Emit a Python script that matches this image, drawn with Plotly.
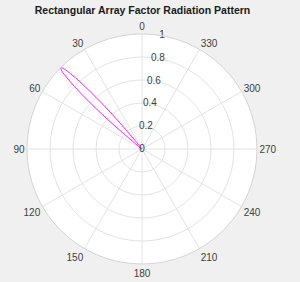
import plotly.graph_objects as go

# Main lobe of the array-factor pattern (degrees, normalised magnitude)
lobe_theta = [38.7, 39.3, 39.85, 40.3, 40.75, 41.2, 41.7, 42.2, 42.75, 43.5, 44.2, 45.0,
              45.8, 46.5, 47.25, 47.8, 48.3, 48.8, 49.25, 49.7, 50.15, 50.7, 51.3]
lobe_r = [0.0, 0.1, 0.2, 0.3, 0.4, 0.5, 0.6, 0.7, 0.8, 0.9, 0.97, 1.0,
          0.97, 0.9, 0.8, 0.7, 0.6, 0.5, 0.4, 0.3, 0.2, 0.1, 0.0]

radial_ticks = [0, 0.2, 0.4, 0.6, 0.8, 1]
radial_labels = ["0", "0.2", "0.4", "0.6", "0.8", "1"]
angle_ticks = [0, 30, 60, 90, 120, 150, 180, 210, 240, 270, 300, 330]
angle_labels = ["0", "30", "60", "90", "120", "150", "180", "210", "240", "270", "300", "330"]

FONT = "Liberation Sans, Arial, sans-serif"
W, H = 300, 282
cx, cy, R = 142, 149, 115

fig = go.Figure()
fig.add_trace(go.Scatterpolar(
    r=lobe_r, theta=lobe_theta, mode="lines",
    line=dict(color="#ff00ff", width=0.9, shape="spline"),
    hoverinfo="skip", showlegend=False))
fig.add_trace(go.Scatterpolar(
    r=radial_ticks, theta=[350] * len(radial_ticks), mode="text",
    text=radial_labels, textfont=dict(family=FONT, size=10, color="#404040"),
    textposition="middle center", hoverinfo="skip", showlegend=False,
    cliponaxis=False))

fig.update_layout(
    width=W, height=H,
    margin=dict(l=0, r=0, t=0, b=0),
    paper_bgcolor="#f0f0f0",
    font=dict(family=FONT, size=10, color="#404040"),
    title=dict(text="<b>Rectangular Array Factor Radiation Pattern</b>",
               x=142.5 / W, xanchor="center", y=1 - 10 / H, yanchor="middle",
               font=dict(family=FONT, size=10.5, color="#1a1a1a")),
    polar=dict(
        domain=dict(x=[(cx - R) / W, (cx + R) / W],
                    y=[(H - cy - R) / H, (H - cy + R) / H]),
        bgcolor="white",
        radialaxis=dict(range=[0, 1], tickvals=radial_ticks, showticklabels=False,
                        ticks="", showline=False, gridcolor="#e3e3e3", gridwidth=1),
        angularaxis=dict(rotation=90, direction="counterclockwise",
                         tickvals=angle_ticks, ticktext=angle_labels, ticks="",
                         showline=True, linecolor="#d4d4d4", linewidth=1,
                         gridcolor="#e3e3e3", gridwidth=1,
                         tickfont=dict(family=FONT, size=10, color="#404040")),
    ),
)

fig.write_html("out.html")
